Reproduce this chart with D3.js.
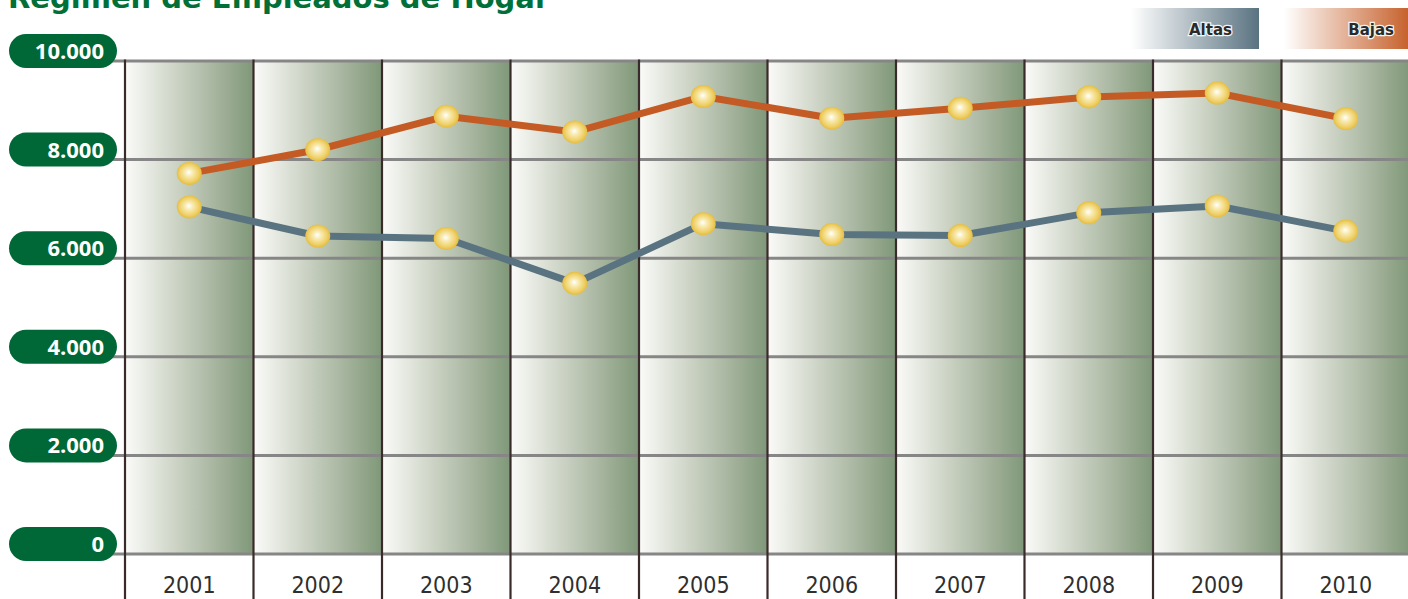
<!DOCTYPE html>
<html>
<head>
<meta charset="utf-8">
<script src="https://cdn.jsdelivr.net/npm/d3@7"></script>
<style>
  html, body { margin: 0; padding: 0; background: #fff; }
  svg { display: block; }
</style>
</head>
<body>
<svg id="chart" width="1408" height="599"></svg>
<script>
// Régimen de Empleados de Hogar: altas y bajas por año
const years = ["2001", "2002", "2003", "2004", "2005", "2006", "2007", "2008", "2009", "2010"];
const altas = [7040, 6450, 6400, 5490, 6700, 6480, 6460, 6920, 7060, 6550];
const bajas = [7720, 8200, 8880, 8560, 9280, 8840, 9040, 9270, 9350, 8830];
const yTicks = [0, 2000, 4000, 6000, 8000, 10000];
const yTickLabels = ["0", "2.000", "4.000", "6.000", "8.000", "10.000"];
const seriesNames = ["Altas", "Bajas"];
const seriesColors = ["#5a7381", "#c45b24"];

const svg = d3.select("#chart");
const W = 1408, H = 599;
const plot = { left: 125, right: 1410, top: 61, bottom: 554 };

const x = d3.scaleBand().domain(years).range([plot.left, plot.right]).padding(0);
const y = d3.scaleLinear().domain([0, 10000]).range([plot.bottom, plot.top]);

const defs = svg.append("defs");

// column fill: light on the left, sage green on the right
const colGrad = defs.append("linearGradient").attr("id", "colGrad")
  .attr("x1", "0%").attr("x2", "100%").attr("y1", "0%").attr("y2", "0%");
colGrad.append("stop").attr("offset", "0%").attr("stop-color", "#fbfbf9");
colGrad.append("stop").attr("offset", "35%").attr("stop-color", "#d2d8cb");
colGrad.append("stop").attr("offset", "70%").attr("stop-color", "#a7b59f");
colGrad.append("stop").attr("offset", "100%").attr("stop-color", "#7f9878");

// marker: glossy golden ball
const ball = defs.append("radialGradient").attr("id", "ball")
  .attr("cx", "50%").attr("cy", "50%").attr("r", "55%")
  .attr("fx", "48%").attr("fy", "45%");
ball.append("stop").attr("offset", "0%").attr("stop-color", "#ffffff");
ball.append("stop").attr("offset", "30%").attr("stop-color", "#f8eab0");
ball.append("stop").attr("offset", "70%").attr("stop-color", "#efd068");
ball.append("stop").attr("offset", "100%").attr("stop-color", "#e0b530");

// legend swatches
seriesNames.forEach((name, i) => {
  const g = defs.append("linearGradient").attr("id", "leg" + i)
    .attr("x1", "0%").attr("x2", "100%").attr("y1", "0%").attr("y2", "0%");
  g.append("stop").attr("offset", "0%").attr("stop-color", "#ffffff");
  g.append("stop").attr("offset", "100%").attr("stop-color", seriesColors[i]);
});

// title (runs off the top edge)
svg.append("text")
  .attr("x", 8).attr("y", 8)
  .attr("font-family", "'DejaVu Sans', sans-serif")
  .attr("font-weight", "bold")
  .attr("font-size", 29)
  .attr("fill", "#007038")
  .text("Régimen de Empleados de Hogar");

// year columns
svg.append("g").selectAll("rect").data(years).join("rect")
  .attr("x", d => x(d)).attr("y", plot.top)
  .attr("width", x.bandwidth()).attr("height", plot.bottom - plot.top)
  .attr("fill", "url(#colGrad)");

// horizontal gridlines
svg.append("g").selectAll("line").data(yTicks).join("line")
  .attr("x1", 108).attr("x2", W)
  .attr("y1", d => y(d)).attr("y2", d => y(d))
  .attr("stroke", "#868686").attr("stroke-width", 3);

// column dividers, running down through the year labels
svg.append("g").selectAll("line").data(years).join("line")
  .attr("x1", d => x(d)).attr("x2", d => x(d))
  .attr("y1", plot.top - 1.5).attr("y2", H)
  .attr("stroke", "#3a2b2b").attr("stroke-width", 2.2);

// y-axis labels in green pills
const yLab = svg.append("g").selectAll("g").data(yTicks).join("g")
  .attr("transform", d => `translate(0, ${y(d) - 10})`);
yLab.append("rect")
  .attr("x", 9).attr("y", -17).attr("width", 108).attr("height", 34)
  .attr("rx", 17).attr("ry", 17)
  .attr("fill", "#006837");
yLab.append("text")
  .attr("x", 104).attr("y", 8)
  .attr("text-anchor", "end")
  .attr("font-family", "'Open Sans', sans-serif")
  .attr("font-weight", "bold")
  .attr("font-size", 22)
  .attr("fill", "#ffffff")
  .text((d, i) => yTickLabels[i]);

// x-axis year labels
svg.append("g").selectAll("text").data(years).join("text")
  .attr("x", d => x(d) + x.bandwidth() / 2)
  .attr("y", 593)
  .attr("text-anchor", "middle")
  .attr("font-family", "'Liberation Sans Narrow', 'DejaVu Sans Condensed', sans-serif")
  .attr("font-size", 23)
  .attr("fill", "#2f2f2f")
  .text(d => d);

// series lines and markers
const series = [altas, bajas];
const line = d3.line()
  .x((d, i) => x(years[i]) + x.bandwidth() / 2)
  .y(d => y(d));

series.forEach((vals, s) => {
  svg.append("path")
    .datum(vals)
    .attr("d", line)
    .attr("fill", "none")
    .attr("stroke", seriesColors[s])
    .attr("stroke-width", 7)
    .attr("stroke-linejoin", "round");
});
series.forEach((vals) => {
  svg.append("g").selectAll("ellipse").data(vals).join("ellipse")
    .attr("cx", (d, i) => x(years[i]) + x.bandwidth() / 2)
    .attr("cy", d => y(d))
    .attr("rx", 12.5).attr("ry", 11.5)
    .attr("fill", "url(#ball)");
});

// legend
const legX = [1131, 1284];
const legW = [128, 130];
seriesNames.forEach((name, i) => {
  svg.append("rect")
    .attr("x", legX[i]).attr("y", 8).attr("width", legW[i]).attr("height", 41)
    .attr("fill", `url(#leg${i})`);
  svg.append("text")
    .attr("x", i === 0 ? 1232 : 1394).attr("y", 35)
    .attr("text-anchor", "end")
    .attr("font-family", "'DejaVu Sans', sans-serif")
    .attr("font-weight", "bold")
    .attr("font-size", 15)
    .attr("fill", "#2a2a2a")
    .attr("stroke", "#f4f4f4").attr("stroke-width", 2.5)
    .attr("paint-order", "stroke")
    .text(name);
});
</script>
</body>
</html>
